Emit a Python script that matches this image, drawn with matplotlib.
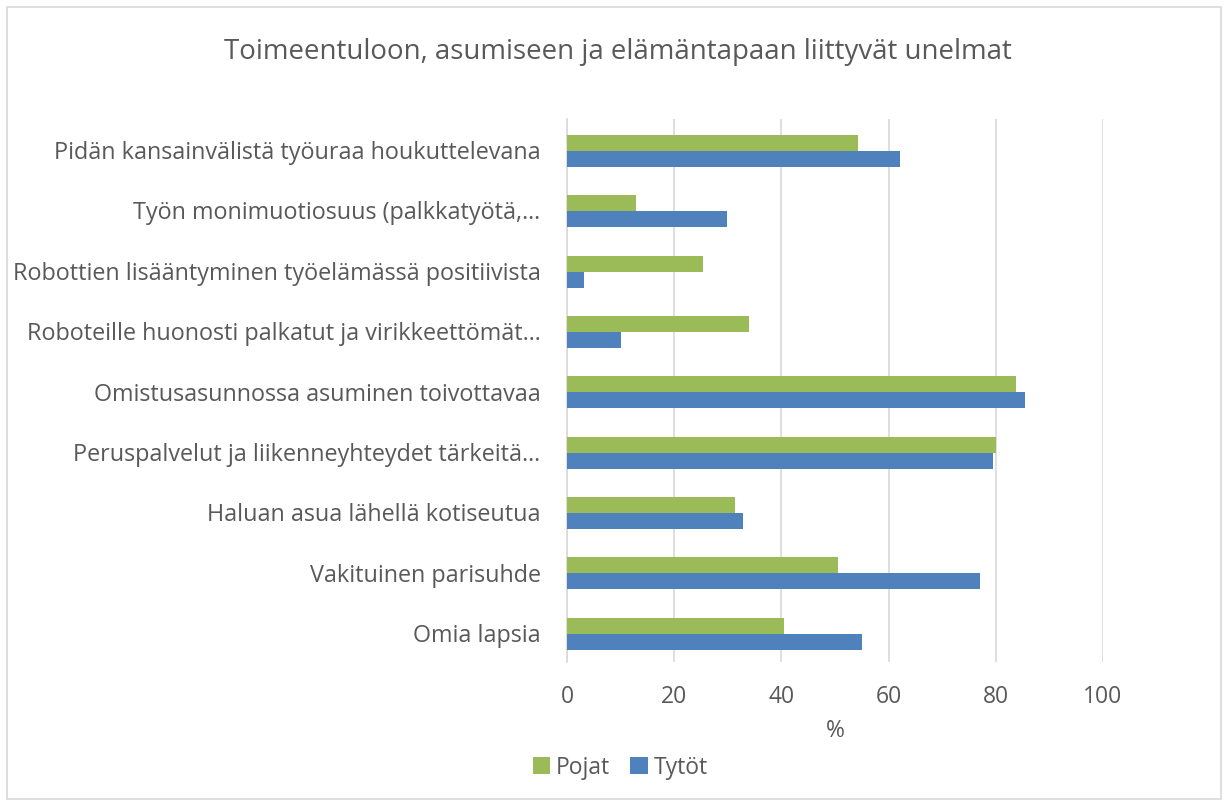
import matplotlib
matplotlib.use("Agg")
import matplotlib.pyplot as plt
import numpy as np
from matplotlib.patches import Rectangle

plt.rcParams['font.family'] = ['Open Sans', 'DejaVu Sans']

categories = [
    'Pidän kansainvälistä työuraa houkuttelevana',
    'Työn monimuotiosuus (palkkatyötä,…',
    'Robottien lisääntyminen työelämässä positiivista',
    'Roboteille huonosti palkatut ja virikkeettömät…',
    'Omistusasunnossa asuminen toivottavaa',
    'Peruspalvelut ja liikenneyhteydet tärkeitä…',
    'Haluan asua lähellä kotiseutua',
    'Vakituinen parisuhde',
    'Omia lapsia',
]
pojat = [54.3, 12.9, 25.4, 34.0, 83.8, 80.0, 31.3, 50.6, 40.5]
tytot = [62.1, 29.9, 3.2, 10.1, 85.4, 79.5, 32.8, 77.1, 55.0]
xticks = [0, 20, 40, 60, 80, 100]

text_color = '#595959'
green = '#9BBB59'
blue = '#4F81BD'

fig = plt.figure(figsize=(12.28, 8.03), dpi=100)
ax = fig.add_axes([0.4617, 0.1743, 0.4365, 0.6763])

pos = np.arange(len(categories))
h = 0.265
ax.barh(pos - h / 2 + 0.03, pojat, height=h, color=green, label='Pojat', zorder=3)
ax.barh(pos + h / 2 + 0.03, tytot, height=h, color=blue, label='Tytöt', zorder=3)

ax.set_ylim(len(categories) - 0.5, -0.5)
ax.set_xlim(0, 100)
ax.set_yticks(pos)
ax.set_yticklabels(categories, fontsize=16.8, color=text_color)
ax.set_xticks(xticks)
ax.set_xticklabels([str(t) for t in xticks], fontsize=16.5, color=text_color)
ax.tick_params(axis='y', length=0, pad=19)
ax.tick_params(axis='x', length=0, pad=16)

ax.grid(axis='x', color='#D9D9D9', linewidth=1.2, zorder=0)
for s in ['top', 'right', 'bottom']:
    ax.spines[s].set_visible(False)
ax.spines['left'].set_color('#D9D9D9')
ax.spines['left'].set_linewidth(1.2)

ax.set_xlabel('%', fontsize=16.5, color=text_color, labelpad=7)

fig.text(0.503, 0.935, 'Toimeentuloon, asumiseen ja elämäntapaan liittyvät unelmat',
         ha='center', va='center', fontsize=19.9, color=text_color)

fig.legend(loc='center', bbox_to_anchor=(0.505, 0.043), ncol=2, frameon=False,
           fontsize=16.5, labelcolor=text_color, handlelength=0.75, handleheight=0.75,
           handletextpad=0.25, columnspacing=0.9)

fig.patches.append(Rectangle((0.006, 0.004), 0.988, 0.986, transform=fig.transFigure,
                             fill=False, edgecolor='#D9D9D9', linewidth=1.2))

fig.savefig('out.png', dpi=100)
